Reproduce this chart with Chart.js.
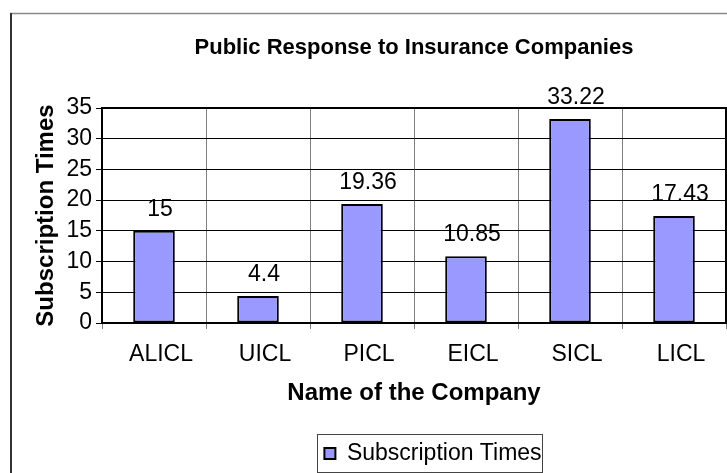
<!DOCTYPE html>
<html>
<head>
<meta charset="utf-8">
<title>Public Response to Insurance Companies</title>
<script src="https://cdn.jsdelivr.net/npm/chart.js@4.4.1/dist/chart.umd.min.js"></script>
<style>
  body { margin: 0; background: #fff; }
  canvas { display: block; }
</style>
</head>
<body>
<canvas id="chart" width="727" height="473"></canvas>
<script>
// values
var companies = ["ALICL", "UICL", "PICL", "EICL", "SICL", "LICL"];
var subscriptionTimes = [15, 4.4, 19.36, 10.85, 33.22, 17.43];
var yMin = 0, yMax = 35, yStep = 5;

var FONT = "'Liberation Sans', Arial, sans-serif";

// frame of the chart object, plot border, legend box, value labels
var decorPlugin = {
  id: "decor",
  beforeDraw: function(chart) {
    var ctx = chart.ctx;
    ctx.save();
    ctx.fillStyle = "#fff";
    ctx.fillRect(0, 0, chart.width, chart.height);
    ctx.strokeStyle = "#8a8a8a";
    ctx.lineWidth = 1.5;
    ctx.beginPath(); ctx.moveTo(10, 13.5); ctx.lineTo(chart.width, 13.5); ctx.stroke();
    ctx.strokeStyle = "#333";
    ctx.lineWidth = 2;
    ctx.beginPath(); ctx.moveTo(11, 13); ctx.lineTo(11, chart.height); ctx.stroke();
    ctx.restore();
  },
  afterLayout: function(chart) {
    // Excel puts the legend a bit right of centre
    var lg = chart.legend;
    lg.left += 19; lg.right += 19;
    lg.top += 2; lg.bottom += 2;
  },
  beforeDatasetsDraw: function(chart) {
    var a = chart.chartArea, ctx = chart.ctx;
    ctx.save();
    ctx.strokeStyle = "#000";
    ctx.lineWidth = 2;
    ctx.strokeRect(a.left, a.top, a.right - a.left, a.bottom - a.top);
    ctx.restore();
  },
  afterDatasetsDraw: function(chart) {
    var ctx = chart.ctx;
    var meta = chart.getDatasetMeta(0);
    ctx.save();
    ctx.font = "23px " + FONT;
    ctx.fillStyle = "#000";
    ctx.textAlign = "center";
    ctx.textBaseline = "alphabetic";
    meta.data.forEach(function(bar, i) {
      ctx.fillText(String(subscriptionTimes[i]), bar.x + 6, bar.y - 15);
    });
    ctx.restore();
  },
  afterDraw: function(chart) {
    var lg = chart.legend, ctx = chart.ctx;
    ctx.save();
    ctx.font = "23px " + FONT;
    var itemW = 11 + 11.5 + ctx.measureText(lg.legendItems[0].text).width;
    var cx = (lg.left + lg.right) / 2;
    var cy = lg.top + 10 + 11.5;
    ctx.strokeStyle = "#444";
    ctx.lineWidth = 1;
    ctx.strokeRect(Math.round(cx - itemW / 2 - 7) + 0.5, Math.round(cy - 19.5) + 0.5,
                   Math.round(itemW + 8), 38);
    ctx.restore();
  }
};

new Chart(document.getElementById("chart"), {
  type: "bar",
  data: {
    labels: companies,
    datasets: [{
      label: "Subscription Times",
      data: subscriptionTimes,
      backgroundColor: "#9999FF",
      borderColor: "#000",
      borderWidth: 2,
      borderSkipped: false,
      barPercentage: 0.4,
      categoryPercentage: 1.0
    }]
  },
  options: {
    responsive: false,
    animation: false,
    layout: { padding: { left: 12, right: 1, top: 0, bottom: 0 } },
    plugins: {
      title: {
        display: true,
        text: "Public Response to Insurance Companies",
        fullSize: false,
        color: "#000",
        font: { family: FONT, size: 22, weight: "bold" },
        padding: { top: 35, bottom: 46.6 }
      },
      legend: {
        position: "bottom",
        fullSize: false,
        labels: {
          color: "#000",
          font: { family: FONT, size: 23 },
          boxWidth: 11,
          boxHeight: 11,
          padding: 10
        }
      },
      tooltip: { enabled: false }
    },
    scales: {
      x: {
        afterFit: function(s) { s.height = 107; },
        grid: { offset: true, color: "#808080", tickColor: "#808080", tickLength: 6 },
        border: { color: "#000", width: 2 },
        ticks: { color: "#000", font: { family: FONT, size: 23 }, padding: 12, labelOffset: 7, maxRotation: 0 },
        title: {
          display: true,
          text: "Name of the Company",
          color: "#000",
          font: { family: FONT, size: 24, weight: "bold" },
          padding: { top: 0, bottom: 22 }
        }
      },
      y: {
        min: yMin,
        max: yMax,
        afterFit: function(s) { s.width = 90; },
        grid: { color: "#000", tickColor: "#000", tickLength: 6 },
        border: { color: "#000", width: 2 },
        ticks: { stepSize: yStep, color: "#000", font: { family: FONT, size: 23 }, padding: 4 },
        title: {
          display: true,
          text: "Subscription Times",
          color: "#000",
          font: { family: FONT, size: 24, weight: "bold" },
          padding: { top: 20, bottom: 0 }
        }
      }
    }
  },
  plugins: [decorPlugin]
});
</script>
</body>
</html>
